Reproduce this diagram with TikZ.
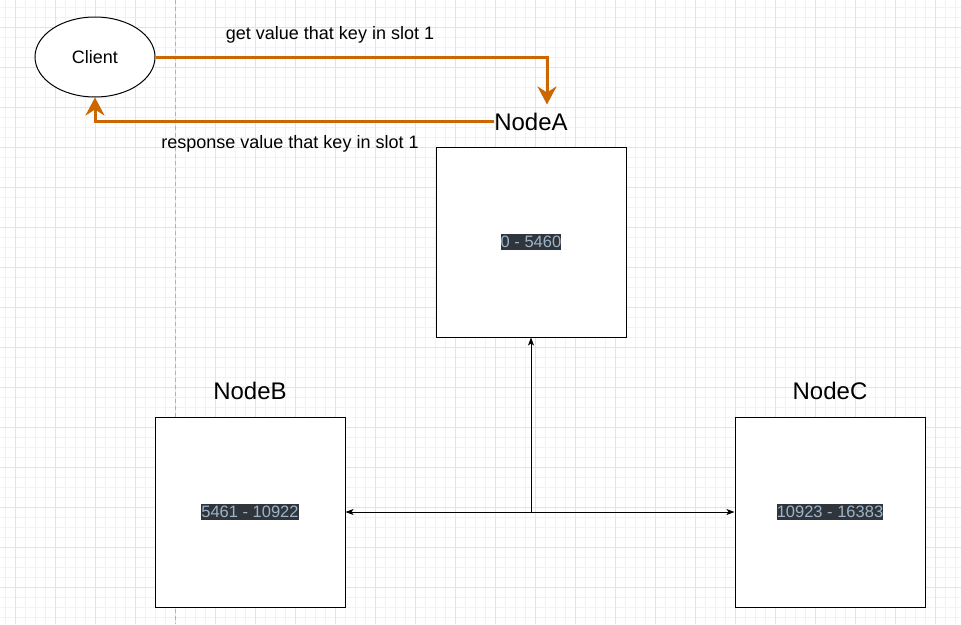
\documentclass[tikz,border=0pt]{standalone}
\usepackage{fontspec}
\setmainfont{Liberation Sans}
\usetikzlibrary{positioning, shapes.geometric, arrows.meta}
\definecolor{reqorange}{HTML}{CC6600}
\definecolor{slotbg}{HTML}{2F353B}
\definecolor{slotfg}{HTML}{9DB3C8}
\newcommand{\minor}{black!5}
\newcommand{\major}{black!11}

\begin{document}
\begin{tikzpicture}[x=1pt, y=-1pt,
    server/.style={draw, line width=1pt, minimum size=190pt, inner sep=0pt},
    title/.style={font=\fontsize{24}{28}\selectfont, inner sep=0pt},
    msg/.style={font=\fontsize{18}{21}\selectfont, inner sep=0pt},
    slots/.style={fill=slotbg, text=slotfg, font=\fontsize{16.5}{19}\selectfont, inner xsep=0pt, inner ysep=2.5pt},
    req/.style={draw=reqorange, line width=3pt, -{Stealth[length=18pt, width=19pt, inset=6pt]}},
    link/.style={line width=0.9pt, >={Stealth[length=8pt, width=6pt, inset=2pt]}}]
        %\draw[help lines] (0,0) grid (961,624);
        \useasboundingbox[fill=white] (0,0) rectangle (961,624);
        \foreach \x in {5,15,...,955} \draw[\minor, line width=1pt] (\x,0) -- (\x,624);
        \foreach \y in {7,17,...,617} \draw[\minor, line width=1pt] (0,\y) -- (961,\y);
        \foreach \x in {15,55,...,935} \draw[\major, line width=1pt] (\x,0) -- (\x,624);
        \foreach \y in {27,67,...,587} \draw[\major, line width=1pt] (0,\y) -- (961,\y);
        \draw[black!30, dash pattern=on 4pt off 3pt] (175,0) -- (175,624);

        \node[ellipse, draw, fill=white, line width=1pt, minimum width=120pt, minimum height=80pt, msg] (client) at (95,57) {Client};

        \node[server, fill=white] (boxA) at (531,242) {};
        \node[server, fill=white] (boxB) at (250,512) {};
        \node[server, fill=white] (boxC) at (830,512) {};
        \node[title, above=16pt of boxA] (labA) {NodeA};
        \node[title, above=17pt of boxB] (labB) {NodeB};
        \node[title, above=17pt of boxC] (labC) {NodeC};
        \node[slots] (slotA) at (boxA) {0 - 5460};
        \node[slots] (slotB) at (boxB) {5461 - 10922};
        \node[slots] (slotC) at (boxC) {10923 - 16383};

        \coordinate (getEnd) at ([xshift=16pt, yshift=8pt]labA.north);
        \draw[req] (client.east) -| (getEnd);
        \draw[req] (labA.west) -| (client.south);
        \node[msg, anchor=base] (getMsg) at (330,39) {get value that key in slot 1};
        \node[msg, anchor=base] (respMsg) at (290,148) {response value that key in slot 1};

        \coordinate (hub) at (boxA.south |- boxB.east);
        \draw[link, <->] (boxB.east) -- (boxC.west);
        \draw[link, ->] (hub) -- (boxA.south);
    \end{tikzpicture}
\end{document}
